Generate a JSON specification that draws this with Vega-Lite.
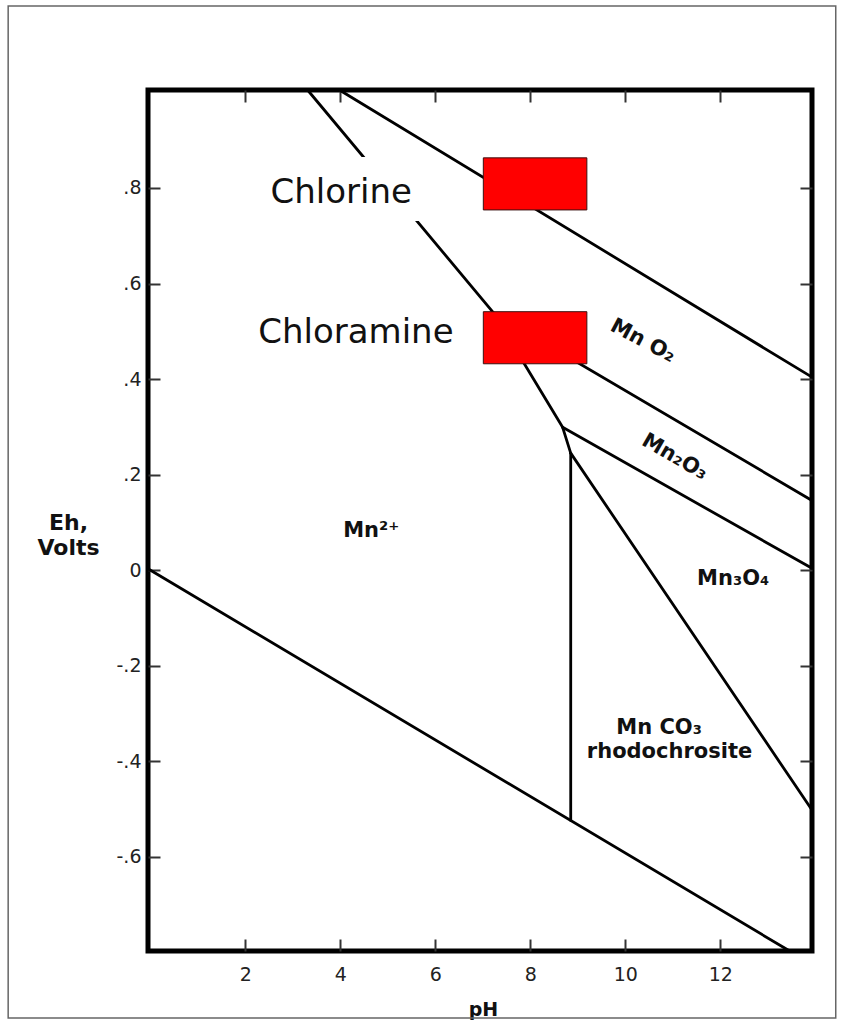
{
  "$schema": "https://vega.github.io/schema/vega-lite/v6.json",
  "width": 664,
  "height": 861,
  "autosize": {"type": "none"},
  "padding": {"left": 148, "top": 90, "right": 32, "bottom": 72},
  "background": "white",
  "config": {
    "view": {"stroke": "black", "strokeWidth": 5},
    "axis": {
      "domain": false,
      "grid": false,
      "ticks": true,
      "tickSize": -12,
      "tickWidth": 2,
      "tickColor": "#333",
      "labelFont": "DejaVu Sans",
      "labelFontSize": 19,
      "labelColor": "#222",
      "titleFont": "DejaVu Sans",
      "titleFontWeight": "bold",
      "titleColor": "#111"
    }
  },
  "datasets": {
    "frame": [{"pH1": -2.994, "pH2": 14.43, "Eh1": 1.181, "Eh2": -0.937}],
    "boundaries": [
      {"pH1": 3.98, "Eh1": 1.005, "pH2": 13.93, "Eh2": 0.404},
      {"pH1": -0.05, "Eh1": 0.003, "pH2": 13.46, "Eh2": -0.797},
      {"pH1": 3.31, "Eh1": 1.005, "pH2": 7.23, "Eh2": 0.538},
      {"pH1": 7.23, "Eh1": 0.538, "pH2": 8.68, "Eh2": 0.299},
      {"pH1": 8.68, "Eh1": 0.299, "pH2": 8.85, "Eh2": 0.245},
      {"pH1": 8.85, "Eh1": 0.245, "pH2": 8.85, "Eh2": -0.524},
      {"pH1": 7.23, "Eh1": 0.538, "pH2": 13.93, "Eh2": 0.146},
      {"pH1": 8.68, "Eh1": 0.299, "pH2": 13.93, "Eh2": 0.004},
      {"pH1": 8.85, "Eh1": 0.245, "pH2": 13.93, "Eh2": -0.502}
    ],
    "textbg": [{"pH1": 2.35, "pH2": 5.68, "Eh1": 0.865, "Eh2": 0.731}],
    "boxes": [
      {"name": "Chlorine", "pH1": 7.01, "pH2": 9.19, "Eh1": 0.863, "Eh2": 0.754},
      {"name": "Chloramine", "pH1": 7.01, "pH2": 9.19, "Eh1": 0.541, "Eh2": 0.432}
    ],
    "biglabels": [
      {"label": "Chlorine", "pH": 2.53, "Eh": 0.768},
      {"label": "Chloramine", "pH": 2.27, "Eh": 0.475}
    ],
    "rotlabels": [
      {"label": "Mn O₂", "pH": 10.37, "Eh": 0.48, "tilt": 28},
      {"label": "Mn₂O₃", "pH": 11.04, "Eh": 0.237, "tilt": 30}
    ],
    "labels": [
      {"label": "Mn₃O₄", "pH": 12.27, "Eh": -0.018},
      {"label": "Mn CO₃", "pH": 10.71, "Eh": -0.33},
      {"label": "rhodochrosite", "pH": 10.93, "Eh": -0.38},
      {"label": "Mn²⁺", "pH": 4.65, "Eh": 0.083}
    ]
  },
  "layer": [
    {
      "data": {"name": "frame"},
      "mark": {"type": "rect", "fillOpacity": 0, "stroke": "#666", "strokeWidth": 1.5, "clip": false},
      "encoding": {
        "x": {"field": "pH1", "type": "quantitative", "scale": {"domain": [-0.05, 13.93], "nice": false, "zero": false}, "axis": null},
        "x2": {"field": "pH2"},
        "y": {"field": "Eh1", "type": "quantitative", "scale": {"domain": [-0.797, 1.005], "nice": false, "zero": false}, "axis": null},
        "y2": {"field": "Eh2"}
      }
    },
    {
      "data": {"name": "boundaries"},
      "mark": {"type": "rule", "color": "black", "strokeWidth": 2.8, "strokeCap": "round"},
      "encoding": {
        "x": {
          "field": "pH1", "type": "quantitative",
          "scale": {"domain": [-0.05, 13.93], "nice": false, "zero": false},
          "axis": {"orient": "bottom", "values": [2, 4, 6, 8, 10, 12], "labelPadding": 26, "title": "pH", "titleFontSize": 19, "titleX": 335, "titleY": 64, "titleBaseline": "alphabetic", "titleAlign": "center"}
        },
        "x2": {"field": "pH2"},
        "y": {
          "field": "Eh1", "type": "quantitative",
          "scale": {"domain": [-0.797, 1.005], "nice": false, "zero": false},
          "axis": {
            "orient": "left",
            "values": [-0.6, -0.4, -0.2, 0, 0.2, 0.4, 0.6, 0.8],
            "labelExpr": "datum.value == 0 ? '0' : (datum.value < 0 ? '-.' : '.') + round(abs(datum.value) * 10)",
            "labelPadding": 19,
            "title": ["Eh,", "Volts"],
            "titleFontSize": 22,
            "titleLineHeight": 25,
            "titleAngle": 0,
            "titleAlign": "center",
            "titleBaseline": "top",
            "titleX": -80,
            "titleY": 422
          }
        },
        "y2": {"field": "Eh2"}
      }
    },
    {
      "data": {"name": "textbg"},
      "mark": {"type": "rect", "fill": "white", "stroke": null},
      "encoding": {
        "x": {"field": "pH1", "type": "quantitative", "scale": {"domain": [-0.05, 13.93], "nice": false, "zero": false}, "axis": null},
        "x2": {"field": "pH2"},
        "y": {"field": "Eh1", "type": "quantitative", "scale": {"domain": [-0.797, 1.005], "nice": false, "zero": false}, "axis": null},
        "y2": {"field": "Eh2"}
      }
    },
    {
      "data": {"name": "boxes"},
      "mark": {"type": "rect", "fill": "#ff0000", "stroke": "#3a1010", "strokeWidth": 1},
      "encoding": {
        "x": {
          "field": "pH1", "type": "quantitative",
          "scale": {"domain": [-0.05, 13.93], "nice": false, "zero": false},
          "axis": {"orient": "top", "values": [2, 4, 6, 8, 10, 12], "labels": false, "title": null}
        },
        "x2": {"field": "pH2"},
        "y": {
          "field": "Eh1", "type": "quantitative",
          "scale": {"domain": [-0.797, 1.005], "nice": false, "zero": false},
          "axis": {"orient": "right", "values": [-0.6, -0.4, -0.2, 0, 0.2, 0.4, 0.6, 0.8], "labels": false, "title": null}
        },
        "y2": {"field": "Eh2"}
      }
    },
    {
      "data": {"name": "biglabels"},
      "mark": {"type": "text", "font": "DejaVu Sans", "fontSize": 34, "align": "left", "baseline": "alphabetic", "color": "#111"},
      "encoding": {
        "x": {"field": "pH", "type": "quantitative", "scale": {"domain": [-0.05, 13.93], "nice": false, "zero": false}, "axis": null},
        "y": {"field": "Eh", "type": "quantitative", "scale": {"domain": [-0.797, 1.005], "nice": false, "zero": false}, "axis": null},
        "text": {"field": "label"}
      }
    },
    {
      "data": {"name": "rotlabels"},
      "mark": {"type": "text", "font": "DejaVu Sans", "fontWeight": "bold", "fontSize": 21, "align": "center", "baseline": "middle", "color": "#111"},
      "encoding": {
        "x": {"field": "pH", "type": "quantitative", "scale": {"domain": [-0.05, 13.93], "nice": false, "zero": false}, "axis": null},
        "y": {"field": "Eh", "type": "quantitative", "scale": {"domain": [-0.797, 1.005], "nice": false, "zero": false}, "axis": null},
        "angle": {"field": "tilt", "type": "quantitative", "scale": null},
        "text": {"field": "label"}
      }
    },
    {
      "data": {"name": "labels"},
      "mark": {"type": "text", "font": "DejaVu Sans", "fontWeight": "bold", "fontSize": 21, "align": "center", "baseline": "middle", "color": "#111"},
      "encoding": {
        "x": {"field": "pH", "type": "quantitative", "scale": {"domain": [-0.05, 13.93], "nice": false, "zero": false}, "axis": null},
        "y": {"field": "Eh", "type": "quantitative", "scale": {"domain": [-0.797, 1.005], "nice": false, "zero": false}, "axis": null},
        "text": {"field": "label"}
      }
    }
  ],
  "resolve": {"axis": {"x": "independent", "y": "independent"}}
}
